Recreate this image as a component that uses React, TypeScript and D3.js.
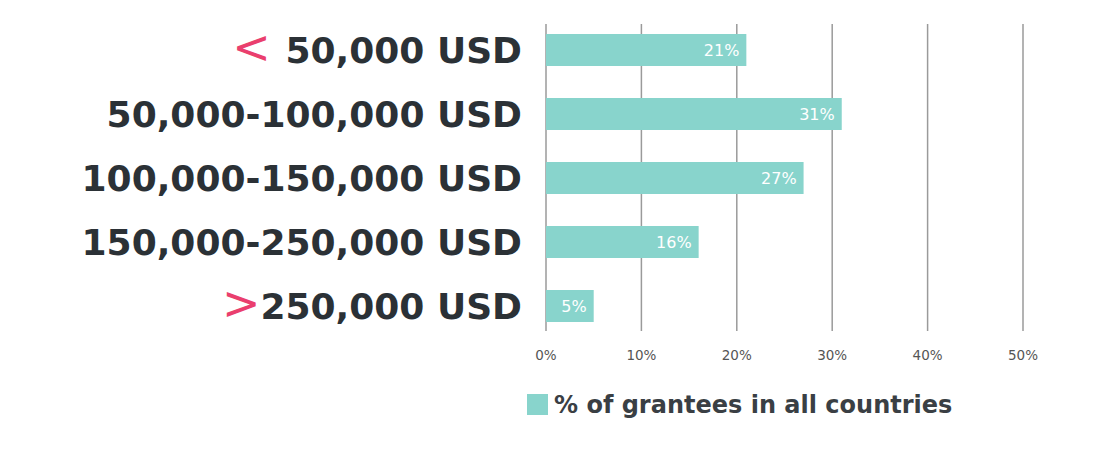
import * as d3 from "d3";
import { useEffect, useRef } from "react";

const categories = [
  "< 50,000 USD",
  "50,000-100,000 USD",
  "100,000-150,000 USD",
  "150,000-250,000 USD",
  "> 250,000 USD",
];
const shares = [21, 31, 27, 16, 5];
const ticks = [0, 10, 20, 30, 40, 50];
const legendLabel = "% of grantees in all countries";

const W = 1119;
const H = 459;
const BAR = "#88d4cc";
const INK = "#2b3136";
const PINK = "#ea3f6e";

export default function App() {
  const ref = useRef<SVGSVGElement>(null);

  useEffect(() => {
    const svg = d3.select(ref.current);
    svg.selectAll("*").remove();

    const x = d3.scaleLinear().domain([0, 50]).range([546, 1023]);
    const y = d3
      .scaleBand()
      .domain(categories)
      .range([18, 338])
      .paddingInner(0.5)
      .paddingOuter(0.25);

    // grid lines
    svg
      .append("g")
      .selectAll("line")
      .data(ticks)
      .enter()
      .append("line")
      .attr("x1", (d) => x(d))
      .attr("x2", (d) => x(d))
      .attr("y1", 24)
      .attr("y2", 331)
      .attr("stroke", "#9a9a9a")
      .attr("stroke-width", 1.5);

    // tick labels
    svg
      .append("g")
      .selectAll("text")
      .data(ticks)
      .enter()
      .append("text")
      .attr("x", (d) => x(d))
      .attr("y", 360)
      .attr("text-anchor", "middle")
      .attr("font-family", "'DejaVu Sans', sans-serif")
      .attr("font-size", 13.5)
      .attr("fill", "#555")
      .text((d) => `${d}%`);

    // bars
    const rows = svg
      .append("g")
      .selectAll("g")
      .data(categories.map((c, i) => ({ label: c, value: shares[i] })))
      .enter()
      .append("g");

    rows
      .append("rect")
      .attr("x", x(0))
      .attr("y", (d) => y(d.label) ?? 0)
      .attr("width", (d) => x(d.value) - x(0))
      .attr("height", y.bandwidth())
      .attr("fill", BAR);

    rows
      .append("text")
      .attr("x", (d) => x(d.value) - 7)
      .attr("y", (d) => (y(d.label) ?? 0) + y.bandwidth() / 2 + 6)
      .attr("text-anchor", "end")
      .attr("font-family", "'DejaVu Sans', sans-serif")
      .attr("font-size", 16)
      .attr("fill", "#ffffff")
      .text((d) => `${d.value}%`);

    // category labels
    const labels = rows
      .append("text")
      .attr("x", 522)
      .attr("y", (d) => (y(d.label) ?? 0) + y.bandwidth() / 2 + 13)
      .attr("text-anchor", "end")
      .attr("font-family", "'DejaVu Sans', sans-serif")
      .attr("font-size", 36)
      .attr("font-weight", 700)
      .attr("fill", INK);

    labels.each(function (d) {
      const t = d3.select(this);
      const sign = d.label[0];
      if (sign === "<" || sign === ">") {
        const rest = d.label.slice(2);
        t.append("tspan")
          .attr("fill", PINK)
          .attr("font-weight", 400)
          .attr("font-family", "'DejaVu Sans ExtraLight', 'DejaVu Sans', sans-serif")
          .attr("font-size", 46)
          .text(sign + (sign === "<" ? " " : ""));
        t.append("tspan").text(rest);
      } else {
        t.text(d.label);
      }
    });

    // legend
    const legend = svg.append("g");
    legend
      .append("rect")
      .attr("x", 527)
      .attr("y", 394)
      .attr("width", 21)
      .attr("height", 21)
      .attr("fill", BAR);
    legend
      .append("text")
      .attr("x", 554)
      .attr("y", 413)
      .attr("font-family", "'DejaVu Sans', sans-serif")
      .attr("font-size", 24)
      .attr("font-weight", 700)
      .attr("fill", "#3a3f44")
      .text(legendLabel);
  }, []);

  return (
    <svg
      ref={ref}
      width={W}
      height={H}
      style={{ position: "absolute", left: 0, top: 0, background: "#fff" }}
    />
  );
}
